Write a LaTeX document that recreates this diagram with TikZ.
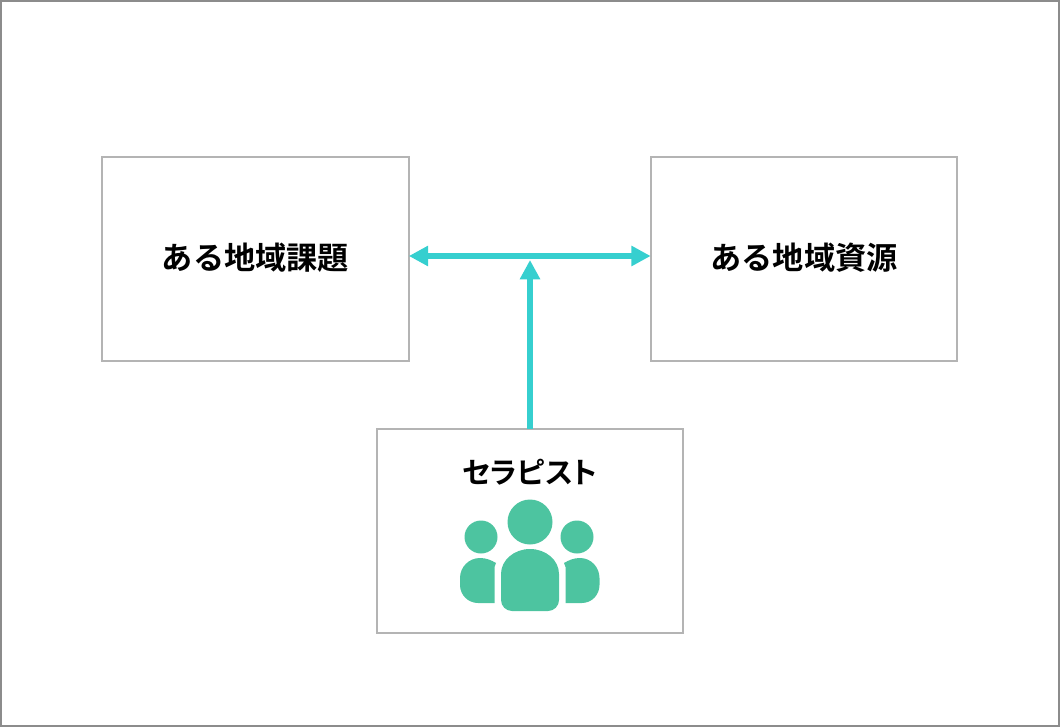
\documentclass[tikz,border=0pt]{standalone}
\usepackage{fontspec}
\setmainfont{Noto Sans CJK JP}[BoldFont={Noto Sans CJK JP Bold}]
\newfontfamily\kanafont[BoldFont={Noto Sans CJK JP Bold},RawFeature=+palt]{Noto Sans CJK JP}
\usetikzlibrary{arrows.meta}
\definecolor{linkcol}{HTML}{36CFCF}
\definecolor{iconcol}{HTML}{4DC4A0}
\definecolor{boxcol}{HTML}{B4B4B4}
\definecolor{framecol}{HTML}{8C8C8C}
\tikzset{
	areabox/.style={draw=boxcol,line width=1.5pt,minimum width=230pt,minimum height=153pt,outer sep=0pt,inner sep=0pt},
	boxtext/.style={font=\fontsize{23.4}{28}\selectfont\bfseries,inner sep=0pt},
	link/.style={draw=linkcol,line width=5pt,>={Triangle[length=14.5pt,width=14.5pt]}},
}

\begin{document}
\begin{tikzpicture}[x=0.75pt,y=-0.75pt]
\useasboundingbox (0,0) rectangle (1060,727);
\draw[framecol,line width=1.5pt] (1,1) rectangle (1059,726);

\node[areabox](issue) at (255.5,259){};
\node[areabox](resource) at (804,259){};
\node[areabox](therapist) at (530,531){};
\node[boxtext](issuetext) at (255.5,258){ある地域課題};
\node[boxtext](resourcetext) at (804,258){ある地域資源};
\node[boxtext,font=\fontsize{22}{26}\selectfont\bfseries](therapisttext) at (530,472){\kanafont セラピスト};

\coordinate(linkmid) at (530,256);
\coordinate(linkend) at (530,260);
\draw[link,<->] (issue.east|-linkmid)--(resource.west|-linkmid);
\draw[link,->] (therapist.north)--(linkend);

% people icon
\fill[iconcol] (530,522) circle (22.5);
\fill[iconcol] (481,537) circle (16.5);
\fill[iconcol] (577,537) circle (16.5);
\fill[iconcol] (501,574) arc (180:360:29 and 25)--(559,600) arc (0:90:11)--(512,611) arc (90:180:11)--cycle;
\fill[iconcol] (494.5,603)--(478,603) arc (90:180:18)--(460,578) arc (180:270:20)--(480,558) .. controls (486,558) and (491,560) .. (496,563)--(494.5,567)--cycle;
\fill[iconcol] (565.5,603)--(582,603) arc (90:0:17.5 and 18)--(599.5,578) arc (0:-90:19.5 and 20)--(580,558) .. controls (574,558) and (569,560) .. (564,563)--(565.5,567)--cycle;
\end{tikzpicture}
\end{document}
